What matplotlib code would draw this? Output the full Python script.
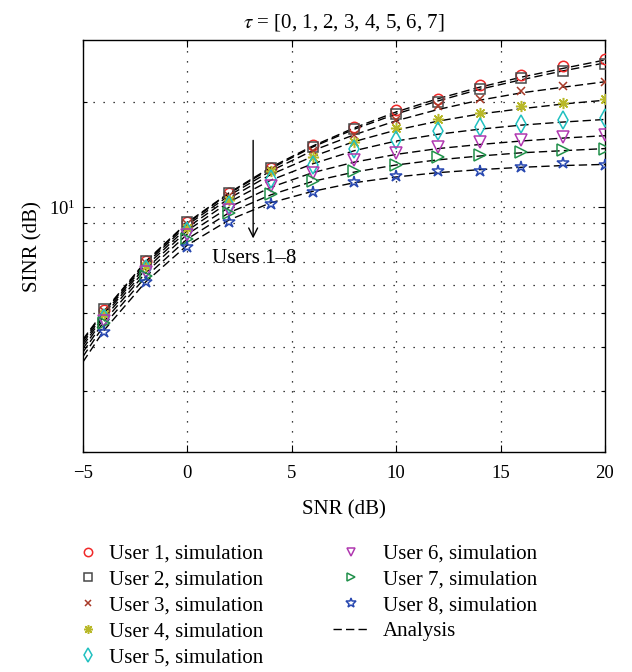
import matplotlib
matplotlib.use("Agg")
import matplotlib.pyplot as plt
from matplotlib.ticker import NullFormatter, FixedLocator

plt.rcParams['font.family'] = ['Liberation Serif', 'DejaVu Serif']
plt.rcParams['mathtext.fontset'] = 'stix'

# ---------------- data ----------------
snr_sim = [-4, -2, 0, 2, 4, 6, 8, 10, 12, 14, 16, 18, 20]
snr_ana = [-5, -4, -2, 0, 2, 4, 6, 8, 10, 12, 14, 16, 18, 20]

sim_user1 = [5.10, 7.03, 9.10, 11.0, 12.95, 15.07, 16.9, 18.95, 20.3, 22.3, 23.9, 25.3, 26.4]
sim_user2 = [5.14, 7.03, 9.07, 10.95, 12.9, 14.9, 16.7, 18.45, 20.0, 21.8, 23.3, 24.5, 25.6]
sim_user3 = [5.05, 6.95, 8.95, 10.75, 12.75, 14.5, 16.1, 17.75, 19.45, 20.3, 21.4, 22.2, 22.8]
sim_user4 = [4.96, 6.80, 8.74, 10.5, 12.65, 13.9, 15.4, 16.8, 17.9, 18.6, 19.4, 19.8, 20.3]
sim_user5 = [4.82, 6.65, 8.55, 10.18, 12.0, 13.2, 14.65, 15.6, 16.55, 16.9, 17.3, 17.75, 17.95]
sim_user6 = [4.75, 6.54, 8.36, 9.85, 11.47, 12.5, 13.6, 14.3, 14.9, 15.3, 15.6, 15.9, 16.1]
sim_user7 = [4.67, 6.37, 8.13, 9.60, 10.9, 11.86, 12.7, 13.2, 13.87, 14.1, 14.4, 14.6, 14.7]
sim_user8 = [4.41, 6.10, 7.72, 9.09, 10.24, 11.03, 11.78, 12.3, 12.7, 12.7, 13.0, 13.4, 13.16]

ana_user1 = [4.20, 5.05, 7.00, 9.05, 11.0, 13.0, 14.95, 16.85, 18.7, 20.4, 22.0, 23.5, 24.9, 26.3]
ana_user2 = [4.16, 5.02, 6.96, 9.00, 10.95, 12.9, 14.85, 16.7, 18.45, 20.1, 21.7, 23.1, 24.5, 25.8]
ana_user3 = [4.10, 4.96, 6.88, 8.90, 10.8, 12.7, 14.5, 16.1, 17.65, 19.0, 20.2, 21.2, 22.0, 22.8]
ana_user4 = [4.03, 4.90, 6.78, 8.75, 10.6, 12.4, 13.95, 15.4, 16.6, 17.6, 18.45, 19.1, 19.7, 20.2]
ana_user5 = [3.95, 4.82, 6.65, 8.58, 10.35, 11.95, 13.3, 14.5, 15.45, 16.15, 16.7, 17.15, 17.5, 17.8]
ana_user6 = [3.86, 4.72, 6.50, 8.38, 10.0, 11.4, 12.55, 13.45, 14.15, 14.7, 15.1, 15.45, 15.75, 16.0]
ana_user7 = [3.75, 4.60, 6.33, 8.12, 9.65, 10.85, 11.85, 12.6, 13.2, 13.65, 14.0, 14.3, 14.5, 14.7]
ana_user8 = [3.62, 4.45, 6.12, 7.80, 9.20, 10.3, 11.1, 11.75, 12.2, 12.55, 12.8, 13.0, 13.15, 13.25]

user_labels = ["User 1, simulation", "User 2, simulation", "User 3, simulation",
               "User 4, simulation", "User 5, simulation", "User 6, simulation",
               "User 7, simulation", "User 8, simulation"]
analysis_label = "Analysis"
title_text = r"$\tau$ = [0, 1, 2, 3, 4, 5, 6, 7]"
x_ticks = [-5, 0, 5, 10, 15, 20]

sims = [sim_user1, sim_user2, sim_user3, sim_user4, sim_user5, sim_user6, sim_user7, sim_user8]
anas = [ana_user1, ana_user2, ana_user3, ana_user4, ana_user5, ana_user6, ana_user7, ana_user8]

markers = ['o', 's', 'x', (8, 2, 0), 'd', 'v', '>', '*']
msizes = [7.5, 6.5, 5.5, 8, 9, 8, 8, 9]
colors = ['#f02828', '#484848', '#a83a28', '#b8b828', '#20c0c0', '#b038b0', '#20904a', '#2848b0']

# ---------------- figure ----------------
fig = plt.figure(figsize=(6.32, 6.72), dpi=100)
ax = fig.add_axes([0.1313, 0.327, 0.8259, 0.6135])

ana_handle = None
for a in anas:
    ln, = ax.plot(snr_ana, a, linestyle=(0, (6, 3)), color='black', linewidth=1.0, zorder=3)
    ana_handle = ln

handles = []
for s, m, ms, c, lab in zip(sims, markers, msizes, colors, user_labels):
    h, = ax.plot(snr_sim, s, linestyle='none', marker=m, markersize=ms,
                 markerfacecolor='none', markeredgecolor=c, markeredgewidth=1.1,
                 label=lab, zorder=4)
    handles.append(h)

ax.set_yscale('log')
ax.set_xlim(-5, 20)
ax.set_ylim(2, 30)
ax.set_xticks(x_ticks)
ax.yaxis.set_major_locator(FixedLocator([10]))
ax.yaxis.set_minor_locator(FixedLocator([2, 3, 4, 5, 6, 7, 8, 9, 20]))
ax.yaxis.set_minor_formatter(NullFormatter())

ax.tick_params(which='both', direction='in', top=True, right=True,
               labelsize=13.5, length=5, width=0.8)
ax.tick_params(which='minor', length=3)
ax.tick_params(axis='x', pad=9)
ax.tick_params(axis='y', pad=5)

grid_style = dict(color='black', linestyle=(0, (1, 7)), linewidth=0.9)
for xv in x_ticks[1:-1]:
    ax.axvline(xv, zorder=1, **grid_style)
for yv in [3, 4, 5, 6, 7, 8, 9, 10, 20]:
    ax.axhline(yv, zorder=1, **grid_style)

for sp in ax.spines.values():
    sp.set_linewidth(1.0)

ax.set_xlabel("SNR (dB)", fontsize=15, labelpad=13)
ax.set_ylabel("SINR (dB)", fontsize=15, labelpad=5)
ax.set_title(title_text, fontsize=15, pad=9)

ax.annotate("", xy=(3.15, 8.0), xytext=(3.15, 15.8),
            arrowprops=dict(arrowstyle='->', color='black', lw=1.0,
                            mutation_scale=16))
ax.text(3.2, 7.15, "Users 1\u20138", ha='center', va='center', fontsize=15)

common = dict(loc='upper left', frameon=False, fontsize=15, markerscale=0.8,
              labelspacing=0.3, borderpad=0, borderaxespad=0)
leg1 = fig.legend(handles[:5], user_labels[:5], bbox_to_anchor=(0.118, 0.19),
                  handlelength=1.25, handletextpad=0.4, **common)
leg2 = fig.legend(handles[5:] + [ana_handle], user_labels[5:] + [analysis_label],
                  bbox_to_anchor=(0.527, 0.19),
                  handlelength=1.75, handletextpad=0.65, **common)

fig.savefig("out.png", dpi=100)
